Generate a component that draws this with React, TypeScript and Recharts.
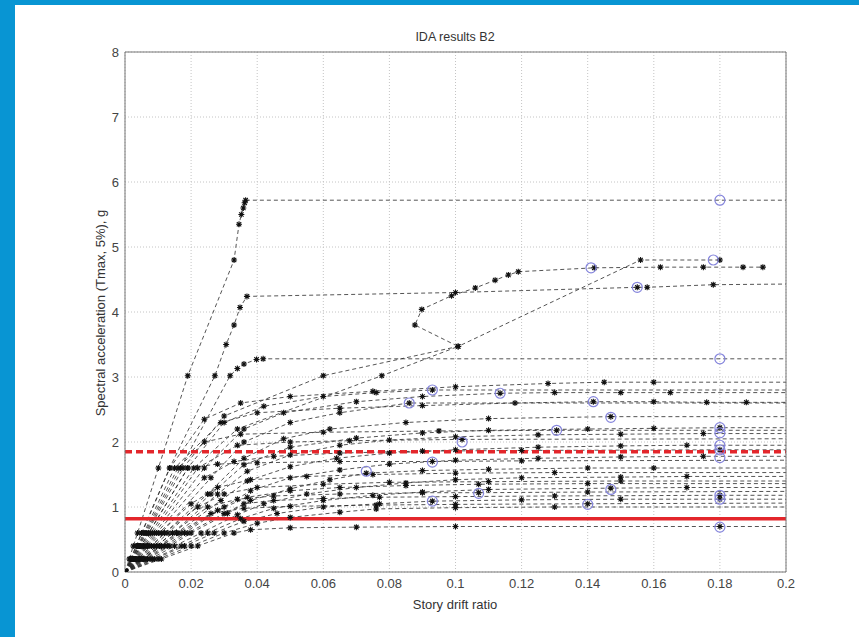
import React from "react"
import { ComposedChart, Line, Scatter, XAxis, YAxis, CartesianGrid, ReferenceLine } from "recharts"

const X_TICKS = [0, 0.02, 0.04, 0.06, 0.08, 0.1, 0.12, 0.14, 0.16, 0.18, 0.2]
const Y_TICKS = [0, 1, 2, 3, 4, 5, 6, 7, 8]

// one row per ground motion record: story drift ratio and Sa(Tmax, 5%) in g
const recordDrift: number[][] = [
  [0, 0.0013, 0.0025, 0.0038, 0.0101, 0.019, 0.033, 0.0345, 0.0352, 0.0358, 0.0362, 0.0365, 0.2],
  [0, 0.0017, 0.0034, 0.005, 0.0135, 0.0272, 0.0306, 0.033, 0.0348, 0.0369, 0.1, 0.155, 0.158, 0.178, 0.2],
  [0, 0.0021, 0.0042, 0.0063, 0.0168, 0.0318, 0.034, 0.036, 0.0398, 0.0418, 0.2],
  [0, 0.0026, 0.0052, 0.0078, 0.0208, 0.034, 0.0777, 0.1008, 0.0877, 0.0898, 0.0988, 0.106, 0.112, 0.116, 0.119, 0.142, 0.162, 0.175, 0.187, 0.193],
  [0, 0.0022, 0.0044, 0.0066, 0.0176, 0.03, 0.06, 0.1008, 0.156, 0.18],
  [0, 0.0017, 0.0034, 0.0051, 0.0136, 0.024, 0.035, 0.05, 0.075, 0.1, 0.128, 0.145, 0.16, 0.2],
  [0, 0.0024, 0.0048, 0.0072, 0.019, 0.03, 0.042, 0.06, 0.076, 0.093, 0.2],
  [0, 0.003, 0.006, 0.009, 0.024, 0.036, 0.048, 0.07, 0.09, 0.1135, 0.13, 0.15, 0.165, 0.2],
  [0, 0.0036, 0.0072, 0.011, 0.026, 0.036, 0.05, 0.065, 0.086, 0.2],
  [0, 0.0019, 0.0038, 0.0057, 0.015, 0.029, 0.04, 0.065, 0.09, 0.118, 0.1417, 0.16, 0.176, 0.188, 0.2],
  [0, 0.004, 0.008, 0.012, 0.025, 0.036, 0.048, 0.062, 0.085, 0.11, 0.147, 0.2],
  [0, 0.0044, 0.0088, 0.013, 0.026, 0.036, 0.05, 0.07, 0.09, 0.11, 0.14, 0.16, 0.18, 0.2],
  [0, 0.002, 0.004, 0.006, 0.016, 0.024, 0.035, 0.06, 0.095, 0.1306, 0.2],
  [0, 0.0048, 0.0096, 0.0144, 0.028, 0.037, 0.05, 0.065, 0.08, 0.1, 0.125, 0.15, 0.175, 0.2],
  [0, 0.0028, 0.0056, 0.0084, 0.022, 0.034, 0.05, 0.068, 0.102, 0.2],
  [0, 0.0052, 0.0104, 0.0156, 0.029, 0.037, 0.05, 0.064, 0.08, 0.1, 0.125, 0.15, 0.17, 0.2],
  [0, 0.0032, 0.0064, 0.0096, 0.024, 0.033, 0.045, 0.065, 0.09, 0.12, 0.18, 0.2],
  [0, 0.006, 0.012, 0.018, 0.03, 0.038, 0.05, 0.065, 0.08, 0.1, 0.125, 0.15, 0.175, 0.2],
  [0, 0.0024, 0.0048, 0.0072, 0.019, 0.028, 0.04, 0.065, 0.093, 0.12, 0.2],
  [0, 0.0068, 0.0136, 0.02, 0.031, 0.038, 0.05, 0.062, 0.073, 0.09, 0.11, 0.14, 0.16, 0.2],
  [0, 0.0034, 0.0068, 0.0102, 0.02, 0.028, 0.038, 0.055, 0.075, 0.1, 0.13, 0.2],
  [0, 0.0076, 0.015, 0.023, 0.034, 0.042, 0.055, 0.07, 0.085, 0.1, 0.12, 0.15, 0.17, 0.2],
  [0, 0.004, 0.008, 0.012, 0.022, 0.03, 0.04, 0.06, 0.08, 0.11, 0.15, 0.2],
  [0, 0.0056, 0.011, 0.017, 0.028, 0.037, 0.05, 0.065, 0.085, 0.107, 0.14, 0.2],
  [0, 0.0084, 0.017, 0.025, 0.035, 0.045, 0.06, 0.075, 0.09, 0.11, 0.147, 0.17, 0.2],
  [0, 0.0048, 0.0096, 0.0144, 0.025, 0.034, 0.045, 0.065, 0.09, 0.107, 0.14, 0.2],
  [0, 0.0064, 0.0128, 0.019, 0.03, 0.036, 0.045, 0.06, 0.077, 0.1, 0.13, 0.18, 0.2],
  [0, 0.009, 0.018, 0.027, 0.036, 0.046, 0.06, 0.077, 0.093, 0.12, 0.15, 0.18, 0.2],
  [0, 0.0054, 0.011, 0.016, 0.026, 0.036, 0.05, 0.076, 0.1, 0.14, 0.2],
  [0, 0.01, 0.02, 0.03, 0.04, 0.05, 0.065, 0.076, 0.1, 0.13, 0.2],
  [0, 0.011, 0.022, 0.033, 0.038, 0.05, 0.07, 0.1, 0.18, 0.2],
]

const recordSa: number[][] = [
  [0, 0.2, 0.4, 0.6, 1.6, 3.02, 4.8, 5.35, 5.5, 5.6, 5.68, 5.72, 5.72],
  [0, 0.2, 0.4, 0.6, 1.6, 3.02, 3.5, 3.8, 4.07, 4.24, 4.3, 4.38, 4.38, 4.42, 4.43],
  [0, 0.2, 0.4, 0.6, 1.6, 3.02, 3.13, 3.2, 3.27, 3.28, 3.28],
  [0, 0.2, 0.4, 0.6, 1.6, 2.2, 3.02, 3.47, 3.8, 4.04, 4.25, 4.37, 4.49, 4.57, 4.62, 4.68, 4.69, 4.69, 4.69, 4.69],
  [0, 0.2, 0.4, 0.6, 1.6, 2.4, 3.02, 3.47, 4.8, 4.8],
  [0, 0.2, 0.4, 0.6, 1.6, 2.35, 2.6, 2.7, 2.78, 2.85, 2.9, 2.92, 2.92, 2.92],
  [0, 0.2, 0.4, 0.6, 1.6, 2.3, 2.55, 2.7, 2.76, 2.8, 2.8],
  [0, 0.2, 0.4, 0.6, 1.6, 2.2, 2.45, 2.62, 2.7, 2.75, 2.76, 2.76, 2.76, 2.76],
  [0, 0.2, 0.4, 0.6, 1.45, 2.0, 2.3, 2.45, 2.6, 2.6],
  [0, 0.2, 0.4, 0.6, 1.6, 2.3, 2.45, 2.52, 2.56, 2.6, 2.62, 2.62, 2.61, 2.61, 2.61],
  [0, 0.2, 0.4, 0.6, 1.2, 1.75, 2.05, 2.2, 2.3, 2.36, 2.39, 2.39],
  [0, 0.2, 0.4, 0.6, 1.2, 1.65, 1.92, 2.06, 2.14, 2.18, 2.2, 2.21, 2.22, 2.22],
  [0, 0.2, 0.4, 0.6, 1.6, 2.0, 2.12, 2.15, 2.17, 2.18, 2.18],
  [0, 0.2, 0.4, 0.6, 1.2, 1.55, 1.8, 1.95, 2.03, 2.08, 2.11, 2.12, 2.13, 2.13],
  [0, 0.2, 0.4, 0.6, 1.6, 1.95, 2.0, 2.02, 2.04, 2.05],
  [0, 0.2, 0.4, 0.6, 1.1, 1.4, 1.62, 1.75, 1.83, 1.88, 1.92, 1.94, 1.95, 1.95],
  [0, 0.2, 0.4, 0.6, 1.45, 1.7, 1.78, 1.83, 1.86, 1.87, 1.88, 1.88],
  [0, 0.2, 0.4, 0.6, 1.0, 1.25, 1.45, 1.57, 1.66, 1.72, 1.75, 1.77, 1.78, 1.78],
  [0, 0.2, 0.4, 0.6, 1.6, 1.66, 1.68, 1.7, 1.7, 1.71, 1.72],
  [0, 0.2, 0.4, 0.6, 0.9, 1.1, 1.28, 1.42, 1.52, 1.56, 1.58, 1.6, 1.6, 1.6],
  [0, 0.2, 0.4, 0.6, 1.05, 1.3, 1.42, 1.47, 1.5, 1.52, 1.53, 1.53],
  [0, 0.2, 0.4, 0.6, 0.88, 1.05, 1.2, 1.3, 1.37, 1.42, 1.45, 1.46, 1.47, 1.47],
  [0, 0.2, 0.4, 0.6, 1.0, 1.2, 1.3, 1.35, 1.38, 1.39, 1.4, 1.4],
  [0, 0.2, 0.4, 0.6, 0.95, 1.15, 1.25, 1.3, 1.33, 1.35, 1.36, 1.36],
  [0, 0.2, 0.4, 0.6, 0.82, 0.98, 1.1, 1.18, 1.23, 1.27, 1.29, 1.3, 1.3],
  [0, 0.2, 0.4, 0.6, 1.0, 1.12, 1.17, 1.2, 1.22, 1.22, 1.23, 1.24],
  [0, 0.2, 0.4, 0.6, 0.9, 1.05, 1.1, 1.13, 1.15, 1.16, 1.17, 1.18, 1.18],
  [0, 0.2, 0.4, 0.6, 0.78, 0.9, 1.0, 1.05, 1.09, 1.11, 1.12, 1.12, 1.12],
  [0, 0.2, 0.4, 0.6, 0.9, 0.98, 1.01, 1.03, 1.04, 1.05, 1.06],
  [0, 0.2, 0.4, 0.6, 0.75, 0.84, 0.92, 0.97, 0.99, 1.0, 1.0],
  [0, 0.2, 0.4, 0.6, 0.65, 0.68, 0.69, 0.7, 0.7, 0.7],
]

// collapse points (open blue circles)
const collapseDrift = [0.18, 0.155, 0.18, 0.141, 0.178, 0.093, 0.1135, 0.086, 0.1417, 0.147, 0.18, 0.1306, 0.18, 0.102, 0.18, 0.18, 0.18, 0.093, 0.073, 0.107, 0.147, 0.18, 0.093, 0.14, 0.18, 0.18]
const collapseSa = [5.72, 4.38, 3.28, 4.68, 4.8, 2.8, 2.75, 2.6, 2.62, 2.38, 2.22, 2.18, 2.14, 2.0, 1.95, 1.88, 1.76, 1.69, 1.55, 1.21, 1.27, 1.18, 1.09, 1.04, 1.12, 0.69]

const MEDIAN_SA = 1.85
const DESIGN_SA = 0.82

const records = recordDrift.map((ds, i) => ds.map((d, j) => ({ drift: d, sa: recordSa[i][j] })))
const collapse = collapseDrift.map((d, i) => ({ drift: d, sa: collapseSa[i] }))

function Star(props: any) {
  const { cx, cy, index, payload } = props
  if (cx == null || cy == null || payload?.drift >= 0.2) return <g key={index} />
  const r = 3
  const q = 2.2
  return (
    <path
      key={index}
      d={`M${cx - r},${cy}H${cx + r}M${cx},${cy - r}V${cy + r}M${cx - q},${cy - q}L${cx + q},${cy + q}M${cx - q},${cy + q}L${cx + q},${cy - q}`}
      stroke="#111"
      strokeWidth={1.1}
      fill="none"
    />
  )
}

function Ring(props: any) {
  const { cx, cy } = props
  return <circle cx={cx} cy={cy} r={5} fill="none" stroke="#8585dc" strokeWidth={1.2} />
}

const font = '"Liberation Sans", Arial, sans-serif'

export default function App() {
  return (
    <div style={{ position: "absolute", left: 0, top: 0, width: 859, height: 637, background: "#fff", overflow: "hidden", fontFamily: font }}>
      <div style={{ position: "absolute", left: 0, top: 0, width: 15, height: 637, background: "#0895d3" }} />
      <div style={{ position: "absolute", left: 0, top: 0, width: 859, height: 5, background: "#0895d3" }} />
      <div style={{ position: "absolute", left: 0, top: 0 }}>
        <ComposedChart width={859} height={637} margin={{ top: 52, right: 73, bottom: 0, left: 0 }}>
          <CartesianGrid stroke="#c4c4c4" strokeDasharray="1 2" />
          <XAxis
            dataKey="drift"
            type="number"
            domain={[0, 0.2]}
            ticks={X_TICKS}
            allowDataOverflow
            height={65}
            tickSize={0}
            tickMargin={7}
            tick={{ fontSize: 13, fill: "#444", fontFamily: font }}
            axisLine={{ stroke: "#777" }}
          />
          <YAxis
            dataKey="sa"
            type="number"
            domain={[0, 8]}
            ticks={Y_TICKS}
            allowDataOverflow
            width={125}
            tickSize={0}
            tickMargin={6}
            tick={{ fontSize: 13, fill: "#444", fontFamily: font }}
            axisLine={{ stroke: "#777" }}
          />
          {records.map((pts, i) => (
            <Line
              key={`rec-${i}`}
              data={pts}
              dataKey="sa"
              stroke="#2a2a2a"
              strokeWidth={0.8}
              strokeDasharray="4 3"
              dot={Star}
              activeDot={false}
              isAnimationActive={false}
            />
          ))}
          <Scatter data={collapse} dataKey="sa" shape={Ring} isAnimationActive={false} />
          <ReferenceLine y={DESIGN_SA} stroke="#e3262b" strokeWidth={3.5} />
          <ReferenceLine y={MEDIAN_SA} stroke="#e3262b" strokeWidth={3.5} strokeDasharray="7 4" />
          <ReferenceLine y={8} stroke="#777" />
          <ReferenceLine x={0.2} stroke="#777" />
        </ComposedChart>
      </div>
      <div style={{ position: "absolute", left: 355, top: 30, width: 200, textAlign: "center", fontSize: 12.5, color: "#333" }}>IDA results B2</div>
      <div style={{ position: "absolute", left: 355, top: 597, width: 200, textAlign: "center", fontSize: 13, color: "#333" }}>Story drift ratio</div>
      <div
        style={{
          position: "absolute",
          left: 100,
          top: 313,
          width: 300,
          textAlign: "center",
          fontSize: 13,
          color: "#333",
          transform: "translate(-50%, -50%) rotate(-90deg)",
          whiteSpace: "nowrap",
        }}
      >
        Spectral acceleration (Tmax, 5%), g
      </div>
    </div>
  )
}
